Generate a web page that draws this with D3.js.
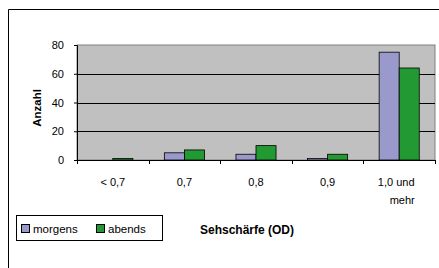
<!DOCTYPE html>
<html>
<head>
<meta charset="utf-8">
<script src="https://cdn.jsdelivr.net/npm/d3@7"></script>
<style>
  body { margin: 0; background: #fff; }
  text { font-family: "Liberation Sans", Arial, sans-serif; }
</style>
</head>
<body>
<div id="chart"></div>
<script>
const categories = ["< 0,7", "0,7", "0,8", "0,9", "1,0 und mehr"];
const morgens = [0, 5, 4, 1, 75];
const abends = [1, 7, 10, 4, 64];
const yTicks = [0, 20, 40, 60, 80];
const seriesNames = ["morgens", "abends"];
const seriesColors = ["#9999cc", "#229933"];

const W = 439, H = 268;
const plot = { left: 77, top: 45, right: 435, bottom: 160 };

const svg = d3.select("#chart").append("svg")
    .attr("width", W)
    .attr("height", H);

// outer chart frame
svg.append("path")
    .attr("d", `M8.5,${H} V9.5 H${W}`)
    .attr("fill", "none")
    .attr("stroke", "#000")
    .attr("stroke-width", 1);

const x = d3.scaleBand()
    .domain(categories)
    .range([plot.left, plot.right]);

const y = d3.scaleLinear()
    .domain([0, 80])
    .range([plot.bottom, plot.top]);

// plot area
svg.append("rect")
    .attr("x", plot.left)
    .attr("y", plot.top)
    .attr("width", plot.right - plot.left)
    .attr("height", plot.bottom - plot.top)
    .attr("fill", "#c0c0c0")
    .attr("stroke", "#808080")
    .attr("stroke-width", 1);

// grid
svg.append("g")
    .selectAll("line")
    .data(yTicks.filter(d => d > 0 && d < 80))
    .join("line")
    .attr("x1", plot.left)
    .attr("x2", plot.right)
    .attr("y1", d => Math.round(y(d)) + 0.5)
    .attr("y2", d => Math.round(y(d)) + 0.5)
    .attr("stroke", "#000")
    .attr("stroke-width", 1);

// bars
const barW = x.bandwidth() * 0.28;
const data = categories.map((c, i) => ({ cat: c, vals: [morgens[i], abends[i]] }));

svg.append("g")
    .selectAll("g")
    .data(data)
    .join("g")
    .attr("transform", d => `translate(${x(d.cat) + x.bandwidth() / 2 - barW},0)`)
    .selectAll("rect")
    .data(d => d.vals.map((v, j) => ({ v, j })).filter(e => e.v > 0))
    .join("rect")
    .attr("x", e => e.j * barW)
    .attr("y", e => y(e.v))
    .attr("width", barW)
    .attr("height", e => y(0) - y(e.v))
    .attr("fill", e => seriesColors[e.j])
    .attr("stroke", "#000")
    .attr("stroke-width", 0.8);

// y axis
const yAxis = svg.append("g")
    .attr("transform", `translate(${plot.left},0)`)
    .call(d3.axisLeft(y).tickValues(yTicks).tickSize(3).tickPadding(10));
yAxis.select(".domain").attr("stroke", "#000");
yAxis.selectAll("text")
    .style("font-family", "'Liberation Sans', Arial, sans-serif")
    .style("font-size", "11px")
    .attr("fill", "#000");

// x axis
const xAxis = svg.append("g")
    .attr("transform", `translate(0,${plot.bottom})`)
    .call(d3.axisBottom(x).tickSize(0).tickFormat(""));
xAxis.select(".domain").attr("stroke", "#000");

// category boundary ticks
svg.append("g")
    .selectAll("line")
    .data(categories.concat(["end"]))
    .join("line")
    .attr("x1", (d, i) => Math.round(plot.left + i * x.step()) + 0.5)
    .attr("x2", (d, i) => Math.round(plot.left + i * x.step()) + 0.5)
    .attr("y1", plot.bottom)
    .attr("y2", plot.bottom + 4)
    .attr("stroke", "#000");

// category labels
const labels = svg.append("g")
    .selectAll("text")
    .data(categories)
    .join("text")
    .attr("x", d => x(d) + x.bandwidth() / 2)
    .attr("y", 186)
    .attr("text-anchor", "middle")
    .style("font-size", "11px");

labels.each(function(d) {
    const t = d3.select(this);
    const parts = d === "1,0 und mehr" ? ["1,0 und", "mehr"] : [d];
    const shift = parts.length > 1 ? [-3, 3] : [0];
    parts.forEach((p, i) => {
        t.append("tspan")
            .attr("x", x(d) + x.bandwidth() / 2 + shift[i])
            .attr("dy", i ? 18 : 0)
            .text(p);
    });
});

// axis titles
svg.append("text")
    .attr("transform", "translate(41,108) rotate(-90)")
    .attr("text-anchor", "middle")
    .style("font-size", "11.5px")
    .style("font-weight", "bold")
    .text("Anzahl");

svg.append("text")
    .attr("x", 247)
    .attr("y", 234)
    .attr("text-anchor", "middle")
    .style("font-size", "12px")
    .style("font-weight", "bold")
    .text("Sehschärfe (OD)");

// legend
const legend = svg.append("g");
legend.append("rect")
    .attr("x", 16.5)
    .attr("y", 215.5)
    .attr("width", 146)
    .attr("height", 25)
    .attr("fill", "#fff")
    .attr("stroke", "#000");

const legendX = [21, 96];
seriesNames.forEach((name, i) => {
    legend.append("rect")
        .attr("x", legendX[i] + 0.5)
        .attr("y", 224.5)
        .attr("width", 8)
        .attr("height", 8)
        .attr("fill", seriesColors[i])
        .attr("stroke", "#000");
    legend.append("text")
        .attr("x", legendX[i] + 12)
        .attr("y", 232.5)
        .style("font-size", "11.5px")
        .text(name);
});
</script>
</body>
</html>
